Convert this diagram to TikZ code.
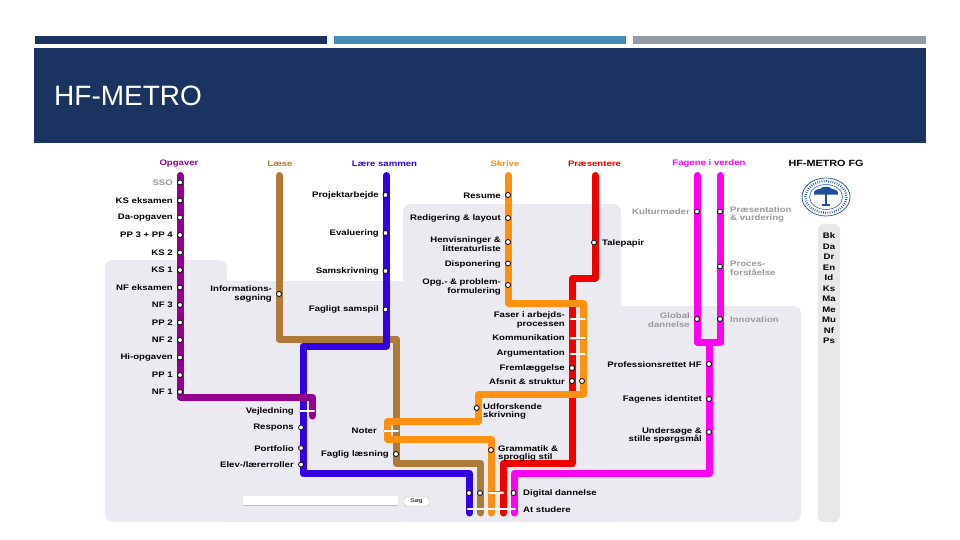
\documentclass[tikz,border=0pt]{standalone}
\usepackage{fontspec}
\setmainfont[FakeStretch=1.2]{Liberation Sans}
\newfontfamily\titlefont{Liberation Sans}
\definecolor{navy}{HTML}{1B3360}
\definecolor{midblue}{HTML}{458CB6}
\definecolor{bargray}{HTML}{949BA6}
\definecolor{zone}{HTML}{ECEAF1}
\definecolor{sidezone}{HTML}{E8E8E8}
\definecolor{mpurple}{HTML}{92008C}
\definecolor{mbrown}{HTML}{AD7A3A}
\definecolor{mblue}{HTML}{3300E6}
\definecolor{morange}{HTML}{FF9010}
\definecolor{mred}{HTML}{F20000}
\definecolor{mmag}{HTML}{FF00F0}
\definecolor{lgray}{HTML}{9A9A9A}
\definecolor{logoblue}{HTML}{1F4E9A}
\tikzset{
  metro/.style={line width=7pt,line join=round,line cap=round},
  stn/.style={circle,draw=black,fill=white,line width=.8pt,inner sep=0pt,minimum size=5pt},
  pill/.style={draw=black!45,line width=.5pt,double=white,double distance=1.7pt,line cap=round},
  lab/.style={font=\fontsize{8}{8.6}\selectfont\bfseries,text=black,inner sep=0pt,align=right,anchor=east},
  labr/.style={font=\fontsize{8}{8.6}\selectfont\bfseries,text=black,inner sep=0pt,align=left,anchor=west},
  hd/.style={font=\fontsize{8}{8}\selectfont\bfseries,inner sep=0pt},
  side/.style={font=\fontsize{8}{8}\selectfont\bfseries,inner sep=0pt,text=black},
}
\begin{document}
\begin{tikzpicture}[x=1pt,y=-1pt]
\useasboundingbox (0,0) rectangle (960,540);
\fill[white] (0,0) rectangle (960,540);
\fill[navy] (35,36) rectangle (327,44);
\fill[midblue] (334,36) rectangle (626,44);
\fill[bargray] (633,36) rectangle (926,44);
\fill[navy] (34,48) rectangle (926,143);
\node[anchor=west,inner sep=0pt,text=white,font=\titlefont\fontsize{28}{30}\selectfont] (title) at (54,95.5) {HF-METRO};
% zones
\fill[zone,rounded corners=8pt] (105,260) rectangle (227,522);
\fill[zone,rounded corners=8pt] (403,204) rectangle (621,522);
\fill[zone,rounded corners=8pt] (400,306) rectangle (801,522);
\fill[zone] (150,281) rectangle (500,522);
\fill[sidezone,rounded corners=6pt] (818,224) rectangle (840,522);
% search
\fill[white] (243,496) rectangle (398,505.5);
\draw[black!25,line width=.5pt] (243,505.5) -- (398,505.5);
\node[draw=black!30,fill=white,rounded corners=1.5pt,minimum width=25pt,minimum height=9pt,inner sep=0pt,font=\fontsize{5.5}{6}\selectfont] (seek) at (416.5,501.5) {Søg};
% metro lines
\draw[metro,mmag] (697.3,175.5) -- (697.3,342.3) -- (720.3,342.3) -- (720.3,175.5);
\draw[metro,mmag] (709.7,342.3) -- (709.7,473.5) -- (514.5,473.5) -- (514.5,513);
\draw[metro,mred] (595,175.5) -- (595,278) -- (572.5,278) -- (572.5,463.5) -- (503.5,463.5) -- (503.5,513);
\draw[metro,mbrown] (279,175.5) -- (279,339) -- (396.5,339) -- (396.5,463.5) -- (480.5,463.5) -- (480.5,513);
\draw[metro,mblue] (386.5,175.5) -- (386.5,346) -- (303,346) -- (303,473.5) -- (469.5,473.5) -- (469.5,513);
\draw[metro,morange] (508.5,175.5) -- (508.5,303) -- (583.5,303) -- (583.5,394.5) -- (478,394.5) -- (478,421.5) -- (387,421.5) -- (387,439) -- (491.5,439) -- (491.5,513);
\draw[metro,mpurple] (180,175.5) -- (180,397) -- (312,397) -- (312,416);
% pills
\draw[pill] (571,319) -- (585,319);
\draw[pill] (571,338.3) -- (585,338.3);
\draw[pill] (571,354) -- (585,354);
\draw[pill] (300,411) -- (314,411);
\draw[pill] (384,431) -- (398,431);
\draw[pill] (489,492.8) -- (503,492.8);
\draw[pill] (468,509) -- (515,509);
% purple stations
\foreach \y/\t/\c in {182.5/SSO/lgray,200.5/KS eksamen/black,217.5/Da-opgaven/black,235/PP 3 + PP 4/black,252.5/KS 2/black,270/KS 1/black,287.5/NF eksamen/black,305/NF 3/black,322.5/PP 2/black,340/NF 2/black,357.5/Hi-opgaven/black,375/PP 1/black,392/NF 1/black}{
  \node[stn] (p\y) at (180,\y) {};
  \node[lab,text=\c] (pl\y) at (173,\y) {\t};
}
% brown
\node[stn] (s1) at (279,294) {};
\node[lab] (l1) at (272,294) {Informations-\\søgning};
\node[stn] (s2) at (396,454) {};
\node[lab] (l2) at (389,454) {Faglig læsning};
% blue
\foreach \y/\t in {195/Projektarbejde,233/Evaluering,271/Samskrivning,309.5/Fagligt samspil}{
  \node[stn] (b\y) at (385.5,\y) {};
  \node[lab] (bl\y) at (379,\y) {\t};
}
\node[stn] (c1) at (301,427.5) {}; \node[lab] (cl1) at (294,428) {Respons};
\node[stn] (c2) at (301,448) {}; \node[lab] (cl2) at (294,448.5) {Portfolio};
\node[stn] (c3) at (301,464.5) {}; \node[lab] (cl3) at (294,464.5) {Elev-/lærerroller};
\node[lab] (vej) at (294,411) {Vejledning};
\node[lab] (not) at (377,430.5) {Noter};
% orange
\node[stn] (o1) at (508,195) {}; \node[lab] (ol1) at (501,195.5) {Resume};
\node[stn] (o2) at (508,218) {}; \node[lab] (ol2) at (501,218.5) {Redigering \& layout};
\node[stn] (o3) at (508,242) {}; \node[lab] (ol3) at (501,244) {Henvisninger \&\\litteraturliste};
\node[stn] (o4) at (508,263.5) {}; \node[lab] (ol4) at (501,264) {Disponering};
\node[stn] (o5) at (508,285) {}; \node[lab] (ol5) at (501,287) {Opg.- \& problem-\\formulering};
\node[lab] (f1) at (565,320) {Faser i arbejds-\\processen};
\node[lab] (f2) at (565,338) {Kommunikation};
\node[lab] (f3) at (565,353.5) {Argumentation};
\node[stn] (f4s) at (572,368) {}; \node[lab] (f4) at (565,368.5) {Fremlæggelse};
\node[stn] (f5s) at (572,381) {}; \node[stn] (f5t) at (582,381) {}; \node[lab] (f5) at (565,381.5) {Afsnit \& struktur};
\node[stn] (u1) at (476.7,408) {};
\node[labr] (ul) at (483,411.5) {Udforskende\\skrivning};
\node[stn] (g1) at (491,450) {};
\node[labr] (gl) at (498,453.5) {Grammatik \&\\sproglig stil};
% bottom
\node[stn] (d1) at (469,493) {};
\node[stn] (d2) at (480,493) {};
\node[stn] (d3) at (513.5,493) {};
\node[labr] (dl) at (523,493.5) {Digital dannelse};
\node[labr] (al) at (523,509.5) {At studere};
% red
\node[stn] (r1) at (594,242.5) {};
\node[labr] (rl) at (602,243) {Talepapir};
% magenta
\node[stn] (m1) at (697,211.5) {}; \node[lab,text=lgray] (ml1) at (690,211.5) {Kulturmøder};
\node[stn] (m2) at (720,211.5) {}; \node[labr,text=lgray] (ml2) at (730,214.5) {Præsentation\\\& vurdering};
\node[stn] (m3) at (720,266.5) {}; \node[labr,text=lgray] (ml3) at (730,268) {Proces-\\forståelse};
\node[stn] (m4) at (697,319) {}; \node[lab,text=lgray] (ml4) at (690,320) {Global\\dannelse};
\node[stn] (m5) at (720,319) {}; \node[labr,text=lgray] (ml5) at (730,319.5) {Innovation};
\node[stn] (m6) at (709,364) {}; \node[lab] (ml6) at (702,364.5) {Professionsrettet HF};
\node[stn] (m7) at (709,399) {}; \node[lab] (ml7) at (702,399.5) {Fagenes identitet};
\node[stn] (m8) at (709,432) {}; \node[lab] (ml8) at (702,435.3) {Undersøge \&\\stille spørgsmål};
% headers
\node[hd,text=mpurple] (h1) at (179,163.5) {Opgaver};
\node[hd,text=mbrown] (h2) at (280,163.5) {Læse};
\node[hd,text=mblue] (h3) at (384.5,163.5) {Lære sammen};
\node[hd,text=morange] (h4) at (505,163.5) {Skrive};
\node[hd,text=mred] (h5) at (594.5,163.5) {Præsentere};
\node[hd,text=mmag] (h6) at (709,163.5) {Fagene i verden};
\node[hd,text=black,font=\fontsize{9}{9}\selectfont\bfseries] (h7) at (826,163.5) {HF-METRO FG};
% logo
\draw[logoblue,line width=.7pt] (826,197) ellipse (24 and 19);
\draw[logoblue,line width=2.2pt,dash pattern=on .7pt off 1.5pt] (826,197) ellipse (20.5 and 15.8);
\draw[logoblue,line width=.5pt] (826,197) ellipse (16.5 and 12.5);
\draw[logoblue,line width=1.3pt] (826,192) -- (826,205);
\fill[logoblue] (814,194.5) .. controls (813,190) and (818,189) .. (820,189) .. controls (822,186) and (830,186) .. (832,189) .. controls (835,189) and (839,191) .. (838,194.5) -- cycle;
\fill[logoblue] (822,204) rectangle (830,206);
% side list
\foreach \y/\t in {236/Bk,246.5/Da,257/Dr,267.5/En,278/Id,288.5/Ks,299/Ma,309.5/Me,320/Mu,330.5/Nf,341/Ps}{
  \node[side] (n\t) at (829,\y) {\t};
}
\end{tikzpicture}
\end{document}
